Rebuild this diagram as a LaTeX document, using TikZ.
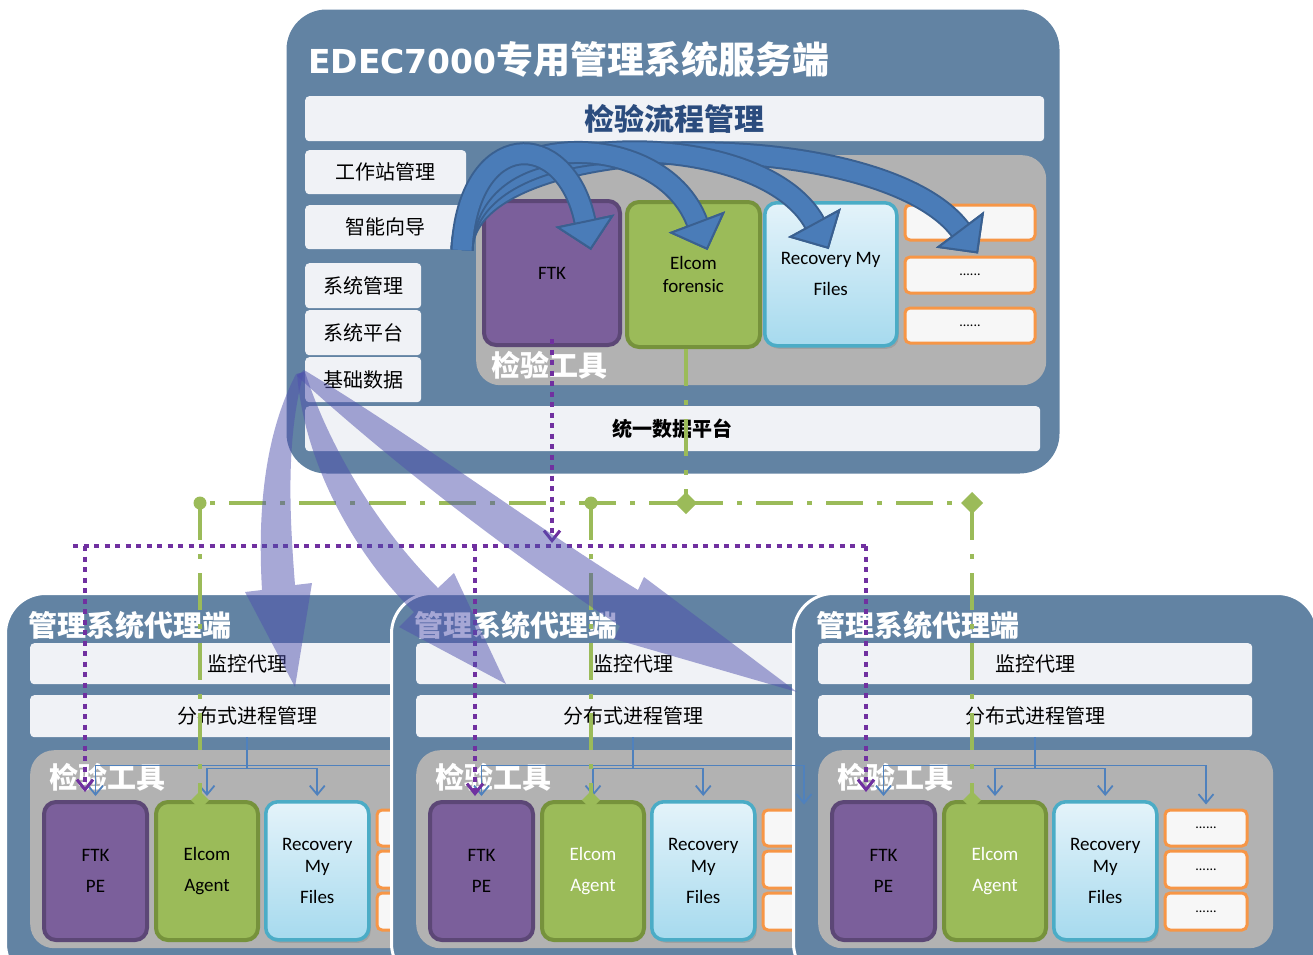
\documentclass[tikz,border=0pt]{standalone}
\usepackage{fontspec}
\setmainfont{Carlito}
\newfontfamily\cjk{Noto Sans CJK SC}
\newfontfamily\djv{DejaVu Sans}
\usepackage{tikz}
\usetikzlibrary{arrows.meta, positioning, calc, shadows}

\definecolor{panelblue}{HTML}{6283A3}
\definecolor{barfill}{HTML}{F0F2F6}
\definecolor{toolgray}{HTML}{B2B2B2}
\definecolor{ftkfill}{HTML}{7B5F9B}
\definecolor{ftkedge}{HTML}{5C4776}
\definecolor{elcfill}{HTML}{9BBB59}
\definecolor{elcedge}{HTML}{76923C}
\definecolor{rectop}{HTML}{E4F3FA}
\definecolor{recbot}{HTML}{A6DAEE}
\definecolor{recedge}{HTML}{4BACC6}
\definecolor{dotedge}{HTML}{F79646}
\definecolor{arrowblue}{HTML}{4A7CB8}
\definecolor{arrowdark}{HTML}{3A6090}
\definecolor{lav}{HTML}{4F51AD}
\definecolor{purp}{HTML}{7030A0}
\definecolor{grn}{HTML}{9BBB59}
\definecolor{titleblue}{HTML}{2B4C7E}
\definecolor{treeblue}{HTML}{4F81BD}

\begin{document}
\begin{tikzpicture}[x=1pt, y=-1pt,
    panel/.style={fill=panelblue, draw=white, line width=3pt, rounded corners=40pt, anchor=north west, inner sep=0pt},
    bar/.style={fill=barfill, rounded corners=4pt, anchor=north west, inner sep=0pt, font=\cjk\fontsize{20}{24}\selectfont},
    toolpanel/.style={fill=toolgray, rounded corners=24pt, anchor=north west, inner sep=0pt},
    whitetitle/.style={text=white, anchor=west, inner sep=0pt, font=\cjk\bfseries\fontsize{29}{32}\selectfont},
    ftkbox/.style={fill=ftkfill, draw=ftkedge, line width=4pt, rounded corners=12pt, anchor=north west, inner sep=0pt, align=center, font=\fontsize{19}{22}\selectfont},
    elcbox/.style={ftkbox, fill=elcfill, draw=elcedge},
    recbox/.style={ftkbox, draw=recedge, line width=3.5pt, top color=rectop, bottom color=recbot,
        drop shadow={shadow xshift=2pt, shadow yshift=-3pt, opacity=0.35}},
    dotbox/.style={fill=black!3, draw=dotedge, line width=3pt, rounded corners=5pt, anchor=north west, inner sep=0pt, font=\fontsize{14}{16}\selectfont},
    flowtip/.tip={Triangle[length=30pt, width=60pt, line width=2pt, color=arrowdark, fill=arrowblue]},
    flowarrow/.style={draw=arrowblue, line width=19pt, -flowtip, preaction={draw=arrowdark, line width=23pt, -flowtip}},
    treetip/.tip={Straight Barb[length=9pt, width=15pt, line width=1.8pt]},
    tree/.style={draw=treeblue, line width=1.8pt, shorten >=4pt},
    dataline/.style={draw=grn, line width=4.5pt, dash pattern=on 37pt off 14pt on 5pt off 14pt},
    ctrlline/.style={draw=purp, line width=4pt, dash pattern=on 5pt off 5.5pt},
    ctrltip/.tip={Straight Barb[length=10pt, width=16pt, line width=3pt]},
    lavshape/.style={fill=lav, opacity=0.5}
]
\useasboundingbox (0,0) rectangle (1313,954);
\clip (0,0) rectangle (1313,954);

% Server side
\node[panel, draw=none, minimum width=773pt, minimum height=464pt] (server) at (285,8) {};
\node[anchor=west, inner sep=0pt, text=white] (srvtitle) at (308,59) {{\djv\bfseries\fontsize{33}{38}\selectfont EDEC7000}{\cjk\bfseries\fontsize{37}{40}\selectfont 专用管理系统服务端}};
\node[bar, minimum width=739pt, minimum height=45pt, text=titleblue, font=\cjk\bfseries\fontsize{30}{32}\selectfont] (flow) at (305,96) {检验流程管理};
\node[bar, minimum width=161pt, minimum height=44pt] (wsm) at (305,150) {工作站管理};
\node[bar, minimum width=161pt, minimum height=44pt] (wizard) at (305,205) {智能向导};
\node[bar, minimum width=116pt, minimum height=45pt] (sysm) at (305,263) {系统管理};
\node[bar, minimum width=116pt, minimum height=45pt] (syspf) at (305,310) {系统平台};
\node[bar, minimum width=116pt, minimum height=45pt] (basedata) at (305,357) {基础数据};

\node[toolpanel, minimum width=570pt, minimum height=230pt] (srvtools) at (476,155) {};
\node[whitetitle] (srvtoollbl) at (491,365) {检验工具};
\node[ftkbox, minimum width=136pt, minimum height=144pt] (ftk) at (482,199) {FTK};
\node[elcbox, minimum width=133pt, minimum height=145pt, font=\fontsize{19}{23}\selectfont] (elcom) at (625,200) {Elcom\\forensic};
\node[recbox, minimum width=132pt, minimum height=143pt] (recovery) at (763,201) {Recovery My\\[9pt]Files};
\node[dotbox, minimum width=130pt, minimum height=35pt] (dots1) at (903.5,203.5) {};
\node[dotbox, minimum width=130pt, minimum height=36pt] (dots2) at (903.5,255.5) {......};
\node[dotbox, minimum width=130pt, minimum height=35pt] (dots3) at (903.5,306.5) {......};
\node[bar, minimum width=735pt, minimum height=45pt, font=\cjk\bfseries\fontsize{20}{24}\selectfont] (dataplat) at (305,406) {统一数据平台};

% Flow arrows
\coordinate (flowsrc) at (462,250);
\draw[flowarrow] (flowsrc) .. controls (464,125) and (880,123) .. ($(dots1.south)+(8,12)$);
\draw[flowarrow] (flowsrc) .. controls (465,125) and (760,123) .. ($(recovery.north)+(-2,48)$);
\draw[flowarrow] (flowsrc) .. controls (466,126) and (660,124) .. ($(elcom.north)+(14,50)$);
\draw[flowarrow] (flowsrc) .. controls (468,128) and (565,126) .. ($(ftk.north)+(39,51)$);

% Agent side
\foreach \X/\p/\ec in {6/a/black, 392/b/white, 794/c/white}{
  \node[panel, minimum width=524pt, minimum height=390pt] (agent\p) at (\X-2,592) {};
  \node[whitetitle] (atitle\p) at (\X+22,625) {管理系统代理端};
  \node[bar, minimum width=434pt, minimum height=41pt] (mon\p) at (\X+24,643) {监控代理};
  \node[bar, minimum width=434pt, minimum height=42pt] (dist\p) at (\X+24,695) {分布式进程管理};
  \node[toolpanel, minimum width=455pt, minimum height=198pt] (tools\p) at (\X+24,750) {};
  \node[whitetitle] (toollbl\p) at (\X+43,777) {检验工具};
  \node[ftkbox, minimum width=103pt, minimum height=138pt] (ftk\p) at (\X+36,800) {FTK\\[9pt]PE};
  \node[elcbox, minimum width=102pt, minimum height=138pt, text=\ec] (elc\p) at (\X+148,800) {Elcom\\[9pt]Agent};
  \node[recbox, minimum width=103pt, minimum height=138pt] (rec\p) at (\X+258,800) {Recovery\\My\\[9pt]Files};
  \node[dotbox, minimum width=82pt, minimum height=36pt] (dots\p1) at (\X+369.5,808.5) {......};
  \node[dotbox, minimum width=82pt, minimum height=37pt] (dots\p2) at (\X+369.5,849.5) {......};
  \node[dotbox, minimum width=82pt, minimum height=37pt] (dots\p3) at (\X+369.5,891.5) {......};
  % fan-out to the tools
  \draw[tree, shorten >=0pt] (dist\p.south) -- ++(0,31) coordinate (forkin\p);
  \coordinate (fork\p) at ($(dist\p.south)+(0,28)$);
  \draw[tree, -treetip] (fork\p) -| (ftk\p.north);
  \draw[tree, -treetip] (fork\p) -| (dots\p1.north);
  \draw[tree, -treetip] (forkin\p) -| (elc\p.north);
  \draw[tree, -treetip] (forkin\p) -| (rec\p.north);
}
\draw[tree, -treetip] (forkb) -| (dotsb1.north);

% Data platform links
\coordinate (gA) at (200,503);
\coordinate (gB) at (591,503);
\coordinate (gC) at (686,503);
\coordinate (gD) at (972,503);
\draw[dataline] (gC |- elcom.south) -- (gC);
\draw[dataline] (gC) -- (gA);
\draw[dataline] (gC) -- (gD);
\draw[dataline] (gA) -- (gA |- elca.north);
\draw[dataline] (gB) -- (gB |- elcb.north);
\draw[dataline] (gD) -- (gD |- elcc.north);
\fill[grn] (gA) circle (6.5);
\fill[grn] (gB) circle (6.5);
\foreach \g in {gC, gD}
  \fill[grn] (\g) +(-11,0) -- +(0,-11) -- +(11,0) -- +(0,11) -- cycle;
\foreach \g/\b in {gA/elca, gB/elcb, gD/elcc}
  \fill[grn] (\g |- \b.north) +(-9,0) -- +(0,-9) -- +(9,0) -- +(0,9) -- cycle;

% Tool control links
\coordinate (pL) at (73,546);
\coordinate (pa) at (85,546);
\coordinate (pb) at (475,546);
\coordinate (pc) at (866,546);
\draw[ctrlline, -ctrltip, shorten >=3pt] ($(ftk.south)+(0,-8)$) -- (ftk.south |- pb);
\draw[ctrlline] (pL) -- (pc);
\draw[ctrlline, -ctrltip, shorten >=8pt] (pa) -- (pa |- ftka.north);
\draw[ctrlline, -ctrltip, shorten >=4pt] (pb) -- (pb |- ftkb.north);
\draw[ctrlline, -ctrltip, shorten >=8pt] (pc) -- (pc |- ftkc.north);

% Deployment arrows
\coordinate (lavsrc) at ($(basedata.north west)+(-6,15)$);
\coordinate (lavA) at (295,687);
\coordinate (lavB) at (506,684);
\coordinate (lavC) at (797,692);
\fill[lavshape] ($(lavsrc)+(-3,2)$) .. controls (262,440) and (258,520) .. (262,590)
  -- (245,592) -- (lavA) -- (312,583) -- (295,585)
  .. controls (290,520) and (285,440) .. ($(lavsrc)+(5,0)$) -- cycle;
\fill[lavshape] ($(lavsrc)+(-2,2)$) .. controls (305,470) and (360,560) .. (414,612)
  -- (399,627) -- (lavB) -- (454,573) -- (438,588)
  .. controls (380,530) and (330,450) .. ($(lavsrc)+(6,0)$) -- cycle;
\fill[lavshape] ($(lavsrc)+(-2,4)$) .. controls (400,470) and (520,560) .. (620,626)
  -- (614,639) -- (lavC) -- (644,577) -- (638,590)
  .. controls (540,530) and (420,440) .. ($(lavsrc)+(5,-2)$) -- cycle;

\end{tikzpicture}
\end{document}
